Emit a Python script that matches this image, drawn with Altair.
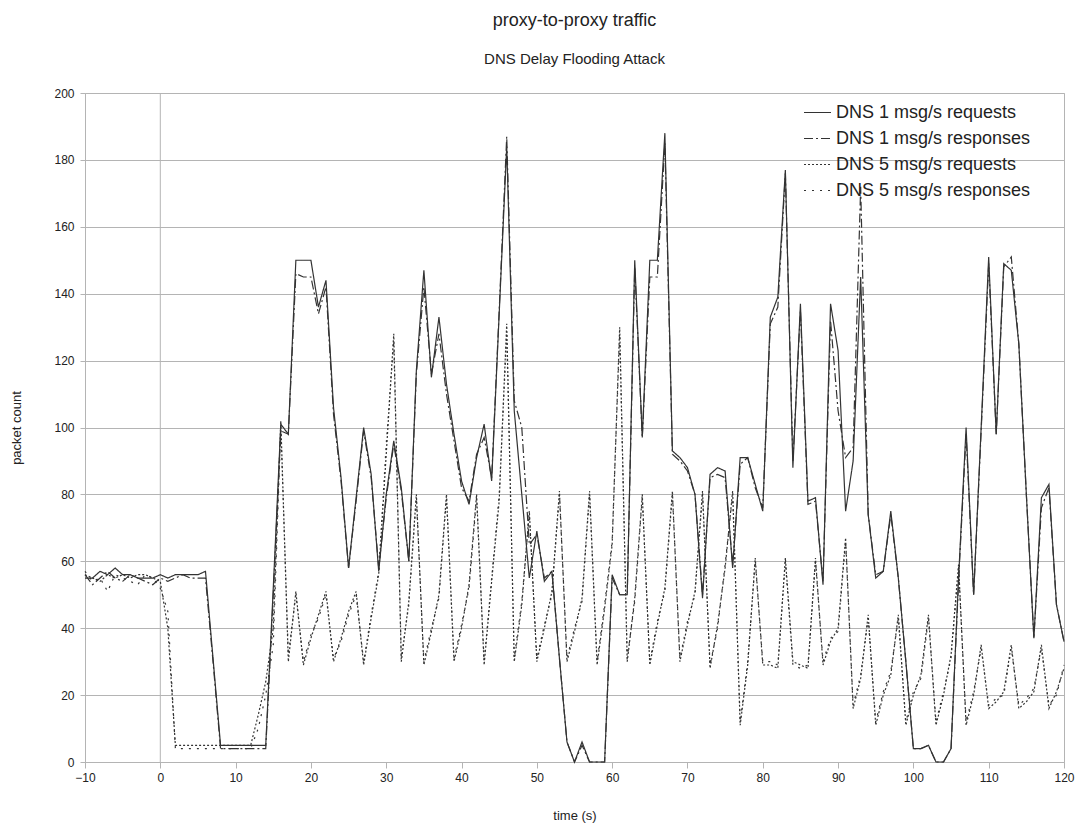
import altair as alt
import pandas as pd

# time axis (s)
T = list(range(-10, 121))

DNS1_REQ = [55, 55, 57, 56, 58, 56, 56, 55, 55, 55,
            56, 55, 56, 56, 56, 56, 57, 31, 5, 5,
            5, 5, 5, 5, 5, 52, 101, 98, 150, 150,
            150, 136, 144, 106, 85, 58, 79, 100, 86, 57,
            80, 96, 82, 60, 117, 147, 115, 133, 113, 98,
            84, 77, 91, 101, 84, 134, 184, 105, 80, 55,
            69, 54, 57, 31, 6, 0, 6, 0, 0, 0,
            56, 50, 50, 150, 97, 150, 150, 188, 93, 91,
            88, 80, 49, 86, 88, 87, 58, 91, 91, 83,
            75, 133, 139, 177, 88, 137, 78, 79, 53, 137,
            123, 75, 90, 145, 74, 55, 57, 75, 55, 30,
            4, 4, 5, 0, 0, 4, 55, 100, 50, 100,
            151, 98, 149, 147, 125, 80, 37, 79, 83, 47,
            36]

DNS1_RESP = [56, 53, 55, 57, 55, 54, 56, 55, 54, 53,
             55, 54, 55, 56, 55, 55, 55, 30, 4, 4,
             4, 4, 4, 4, 4, 50, 99, 98, 146, 145,
             145, 134, 142, 104, 84, 58, 78, 99, 85, 58,
             79, 95, 81, 60, 116, 142, 116, 128, 110, 96,
             82, 78, 92, 97, 85, 135, 187, 108, 100, 65,
             68, 55, 57, 31, 6, 0, 5, 0, 0, 0,
             55, 50, 50, 148, 97, 145, 145, 185, 92, 90,
             87, 80, 50, 85, 86, 85, 59, 89, 91, 82,
             76, 131, 136, 176, 90, 135, 77, 78, 54, 132,
             105, 91, 94, 172, 74, 56, 57, 74, 55, 30,
             4, 4, 5, 0, 0, 4, 54, 98, 50, 99,
             149, 98, 148, 151, 125, 80, 37, 76, 82, 47,
             36]

DNS5_REQ = [56, 55, 54, 56, 55, 56, 55, 56, 56, 55,
            54, 40, 5, 5, 5, 5, 5, 5, 5, 5,
            5, 5, 5, 14, 24, 40, 102, 30, 51, 29,
            37, 44, 51, 30, 37, 45, 51, 29, 43, 56,
            92, 128, 30, 48, 80, 29, 39, 50, 80, 30,
            40, 53, 80, 29, 54, 78, 131, 30, 47, 75,
            30, 40, 51, 81, 30, 39, 49, 81, 29, 46,
            65, 130, 30, 49, 80, 29, 41, 52, 81, 30,
            41, 51, 81, 28, 41, 58, 81, 11, 29, 61,
            29, 29, 28, 61, 30, 29, 28, 61, 29, 36,
            40, 67, 16, 25, 44, 11, 20, 26, 44, 11,
            20, 26, 44, 11, 20, 32, 59, 11, 20, 35,
            16, 18, 21, 35, 16, 18, 21, 35, 16, 21,
            28]

DNS5_RESP = [57, 54, 55, 51, 56, 55, 54, 53, 56, 55,
             52, 45, 4, 4, 4, 4, 4, 4, 4, 4,
             4, 4, 4, 10, 20, 35, 100, 32, 50, 30,
             38, 43, 50, 31, 36, 44, 50, 30, 44, 57,
             95, 126, 31, 47, 79, 30, 40, 49, 79, 31,
             41, 52, 79, 30, 55, 80, 128, 31, 48, 74,
             31, 41, 50, 80, 31, 40, 48, 80, 30, 47,
             66, 128, 31, 48, 79, 30, 42, 51, 80, 31,
             42, 50, 80, 29, 40, 59, 80, 12, 30, 60,
             30, 30, 29, 60, 29, 28, 29, 60, 30, 37,
             39, 66, 17, 26, 43, 12, 21, 27, 43, 12,
             21, 25, 43, 12, 21, 31, 58, 12, 21, 34,
             17, 19, 20, 34, 17, 19, 22, 34, 17, 20,
             29]

SERIES = ["DNS 1 msg/s requests", "DNS 1 msg/s responses",
          "DNS 5 msg/s requests", "DNS 5 msg/s responses"]
DASHES = [[1, 0], [9, 3, 2, 3], [2, 2], [2, 6]]
X_TICKS = [-10, 0, 10, 20, 30, 40, 50, 60, 70, 80, 90, 100, 110, 120]
Y_TICKS = [0, 20, 40, 60, 80, 100, 120, 140, 160, 180, 200]

rows = []
for name, vals in zip(SERIES, [DNS1_REQ, DNS1_RESP, DNS5_REQ, DNS5_RESP]):
    for t, v in zip(T, vals):
        rows.append({"t": t, "count": v, "series": name})
df = pd.DataFrame(rows)

FONT = "Liberation Sans"
GRID = "#b4b4b4"
INK = "#333333"

xscale = alt.Scale(domain=[-10, 120], nice=False, zero=False)
yscale = alt.Scale(domain=[0, 200], nice=False)

zero_rule = alt.Chart(pd.DataFrame({"t": [0]})).mark_rule(
    color=GRID, strokeWidth=1
).encode(x=alt.X("t:Q", scale=xscale))

lines = alt.Chart(df).mark_line(strokeWidth=1.2, color=INK).encode(
    x=alt.X("t:Q", scale=xscale,
            axis=alt.Axis(values=X_TICKS, grid=False, title="time (s)",
                          titlePadding=26, labelPadding=4, tickSize=6,
                          labelFlush=False)),
    y=alt.Y("count:Q", scale=yscale,
            axis=alt.Axis(values=Y_TICKS, grid=True, title="packet count",
                          titlePadding=30, labelPadding=6, tickSize=5)),
    strokeDash=alt.StrokeDash(
        "series:N",
        scale=alt.Scale(domain=SERIES, range=DASHES),
        legend=alt.Legend(
            title=None, orient="none", legendX=718, legendY=5,
            symbolType="stroke", symbolSize=729, symbolStrokeWidth=1.2,
            symbolStrokeColor=INK, labelFont=FONT, labelFontSize=18,
            labelColor="#222222", labelOffset=4, rowPadding=2, padding=0,
            labelLimit=400,
        ),
    ),
)

chart = alt.layer(zero_rule, lines).properties(
    width=979,
    height=669,
    autosize=alt.AutoSizeParams(type="none"),
    padding={"left": 85, "top": 93, "right": 16, "bottom": 63},
    title=alt.TitleParams(
        text="proxy-to-proxy traffic",
        subtitle="DNS Delay Flooding Attack",
        font=FONT, subtitleFont=FONT,
        fontSize=18, subtitleFontSize=15,
        fontWeight="normal", color="#222222", subtitleColor="#222222",
        anchor="middle", frame="group", offset=20, subtitlePadding=22,
    ),
).configure_view(
    stroke=GRID, strokeWidth=1
).configure_axis(
    labelFont=FONT, titleFont=FONT, labelFontSize=12, titleFontSize=13,
    labelColor="#222222", titleColor="#222222", titleFontWeight="normal",
    domainColor=GRID, tickColor=GRID, gridColor=GRID, gridWidth=1,
    domainWidth=1, tickWidth=1,
)

chart.save("out.html", embed_options={"renderer": "svg", "actions": False})
